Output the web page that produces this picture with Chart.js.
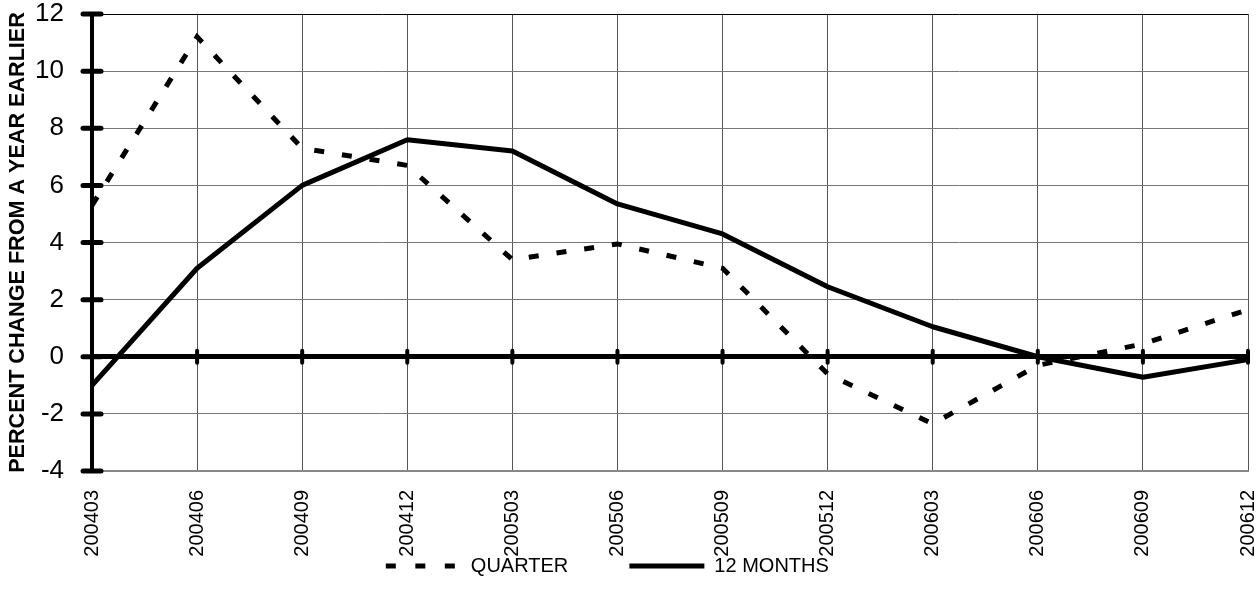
<!DOCTYPE html>
<html>
<head>
<meta charset="utf-8">
<script src="https://cdn.jsdelivr.net/npm/chart.js@4.4.1/dist/chart.umd.min.js"></script>
<style>
  html, body { margin: 0; padding: 0; background: #fff; }
  #wrap { width: 1257px; height: 595px; position: relative; }
</style>
</head>
<body>
<div id="wrap"><canvas id="c"></canvas></div>
<script>
const periods = ["200403", "200406", "200409", "200412", "200503", "200506",
                 "200509", "200512", "200603", "200606", "200609", "200612"];
const quarter = [5.3, 11.2, 7.3, 6.7, 3.4, 3.95, 3.1, -0.6, -2.35, -0.3, 0.45, 1.65];
const twelveMonths = [-1.0, 3.1, 6.0, 7.6, 7.2, 5.35, 4.3, 2.45, 1.05, 0.0, -0.72, -0.1];
const yTicks = [-4, -2, 0, 2, 4, 6, 8, 10, 12];

const FONT = "'Liberation Sans', Arial, sans-serif";
const QUARTER_DASH = [10, 18];

// thick tick marks on the y axis and small bars where the zero line crosses each category
const axisMarks = {
  id: "axisMarks",
  afterDatasetsDraw(chart) {
    const ctx = chart.ctx;
    const x = chart.scales.x, y = chart.scales.y;
    const left = chart.chartArea.left;
    ctx.save();
    ctx.strokeStyle = "#000";
    ctx.lineCap = "round";
    ctx.lineWidth = 5;
    yTicks.forEach(v => {
      const py = y.getPixelForValue(v);
      ctx.beginPath();
      ctx.moveTo(left - 9, py);
      ctx.lineTo(left + 9, py);
      ctx.stroke();
    });
    const zy = y.getPixelForValue(0);
    ctx.lineWidth = 4;
    periods.forEach((p, i) => {
      const px = x.getPixelForValue(i);
      ctx.beginPath();
      ctx.moveTo(px, zy - 6);
      ctx.lineTo(px, zy + 6);
      ctx.stroke();
    });
    ctx.restore();
  }
};

function noPad(s) {
  s.paddingTop = 0; s.paddingBottom = 0; s.paddingLeft = 0; s.paddingRight = 0;
}

new Chart(document.getElementById("c"), {
  type: "line",
  data: {
    labels: periods,
    datasets: [
      {
        label: "QUARTER",
        data: quarter,
        borderColor: "#000",
        backgroundColor: "#000",
        borderWidth: 5,
        borderDash: QUARTER_DASH,
        borderCapStyle: "butt",
        pointRadius: 0,
        tension: 0,
        pointStyle: "line",
      },
      {
        label: "12 MONTHS",
        data: twelveMonths,
        borderColor: "#000",
        backgroundColor: "#000",
        borderWidth: 5,
        borderJoinStyle: "round",
        pointRadius: 0,
        tension: 0,
        pointStyle: "line",
      },
    ],
  },
  options: {
    responsive: true, maintainAspectRatio: false, animation: false,
    layout: { padding: { top: 14, right: 9, left: 0, bottom: 9 } },
    scales: {
      x: {
        offset: false,
        grid: { color: "#555", lineWidth: 1, drawTicks: false },
        border: { color: "#888", width: 2 },
        ticks: {
          color: "#000", font: { family: FONT, size: 20 },
          maxRotation: 90, minRotation: 90, padding: 19, autoSkip: false,
        },
        afterFit(s) { s.height = 85; noPad(s); },
      },
      y: {
        min: -4, max: 12,
        afterBuildTicks(s) { s.ticks = yTicks.map(v => ({ value: v })); },
        grid: {
          drawTicks: false,
          color: ctx => (ctx.tick && (ctx.tick.value === 0 || ctx.tick.value === 12)) ? "#000" : "#777",
          lineWidth: ctx => (ctx.tick && ctx.tick.value === 0) ? 5 : 1,
        },
        border: { color: "#000", width: 4 },
        ticks: { color: "#000", font: { family: FONT, size: 26 }, padding: 28 },
        title: {
          display: true, text: "PERCENT CHANGE FROM A YEAR EARLIER",
          color: "#000", font: { family: FONT, size: 21.6, weight: "bold" },
          padding: { top: 5, bottom: 0 },
        },
        afterFit(s) { s.width = 92; noPad(s); },
      },
    },
    plugins: {
      legend: {
        position: "bottom",
        labels: {
          color: "#000", font: { family: FONT, size: 20 },
          usePointStyle: true, pointStyleWidth: 75, padding: 0,
          generateLabels(chart) {
            const items = Chart.defaults.plugins.legend.labels.generateLabels(chart);
            items.forEach(it => { it.lineWidth = 5; it.lineCap = "butt"; });
            items[0].lineDash = [10, 19.5];
            items[0].text = items[0].text + "           ";
            items[1].text = items[1].text + "      ";
            return items;
          },
        },
      },
      tooltip: { enabled: false },
    },
  },
  plugins: [axisMarks],
});
</script>
</body>
</html>
